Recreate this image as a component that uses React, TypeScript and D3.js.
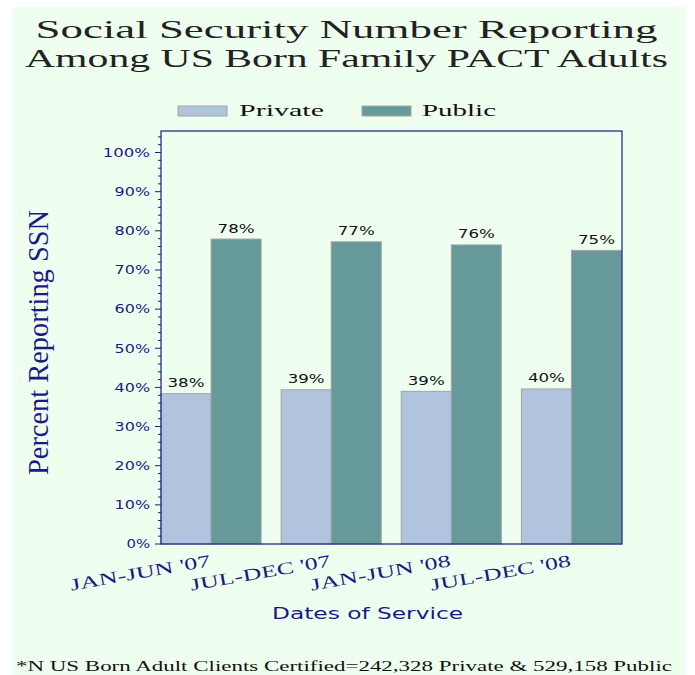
import * as d3 from 'd3';

// chart data
const periods = ["JAN-JUN '07", "JUL-DEC '07", "JAN-JUN '08", "JUL-DEC '08"];
const seriesNames = ['Private', 'Public'];
const privateValues = [38.4, 39.4, 39.0, 39.6];
const publicValues = [77.9, 77.2, 76.4, 75.0];
const yTicks = [0, 10, 20, 30, 40, 50, 60, 70, 80, 90, 100];
const titleLines = ['Social Security Number Reporting', 'Among US Born Family PACT Adults'];
const footnote = '*N US Born Adult Clients Certified=242,328 Private & 529,158 Public';

const colors: Record<string, string> = { Private: '#b0c4de', Public: '#669999' };
const navy = '#1a1a86';
const serif = '"Liberation Serif"';

const width = 695;
const height = 675;
const marginLeft = 161;
const marginRight = 73;
const marginTop = 131;
const marginBottom = 131;

const App = () => {
    const x0 = d3.scaleBand<string>()
        .domain(periods)
        .range([marginLeft, width - marginRight - 0.5])
        .paddingInner(20 / 120)
        .paddingOuter(0);
    const x1 = d3.scaleBand<string>()
        .domain(seriesNames)
        .range([0, x0.bandwidth()]);
    const y = d3.scaleLinear()
        .domain([0, 105.5])
        .range([height - marginBottom, marginTop]);

    const rows = periods.map((p, i) => ({ period: p, Private: privateValues[i], Public: publicValues[i] }));
    const minorTicks = d3.range(0, 105.5, 2).filter(t => t % 10 !== 0);

    // bars + value labels
    const bars = rows.map(r => (
        <g key={r.period} transform={`translate(${x0(r.period)},0)`}>
            {seriesNames.map(s => {
                const v = (r as any)[s] as number;
                return (
                    <g key={s}>
                        <rect
                            x={x1(s)}
                            y={y(v)}
                            width={x1.bandwidth()}
                            height={y(0) - y(v)}
                            fill={colors[s]}
                            stroke="#a4a4a4"
                            strokeWidth={1}
                        />
                        <text
                            x={(x1(s) || 0) + x1.bandwidth() / 2}
                            y={y(v) - 6.5}
                            textAnchor="middle"
                            textLength={37}
                            lengthAdjust="spacingAndGlyphs"
                            style={{ font: '13px "DejaVu Sans"', fill: '#111' }}
                        >
                            {Math.round(v)}%
                        </text>
                    </g>
                );
            })}
        </g>
    ));

    // y axis ticks
    const yAxisTicks = yTicks.map(t => (
        <g key={t} transform={`translate(${marginLeft}, ${y(t)})`}>
            <line x1={-6} x2={0} stroke={navy} />
            <text
                x={-11}
                dy="0.36em"
                textAnchor="end"
                textLength={`${t}%`.length * 11.8}
                lengthAdjust="spacingAndGlyphs"
                style={{ font: '12px "DejaVu Sans"', fill: navy }}
            >
                {t}%
            </text>
        </g>
    ));
    const yMinor = minorTicks.map(t => (
        <line key={t} x1={marginLeft - 3} x2={marginLeft} y1={y(t)} y2={y(t)} stroke={navy} />
    ));

    // x axis labels
    const xAxisTicks = periods.map(p => (
        <text
            key={p}
            transform={`translate(${(x0(p) || 0) + x0.bandwidth() / 2}, 566) rotate(-10)`}
            textAnchor="end"
            textLength={142}
            lengthAdjust="spacingAndGlyphs"
            style={{ font: `17px ${serif}`, fill: navy }}
        >
            {p}
        </text>
    ));

    const legendItems = [
        { name: 'Private', x: 178, tx: 239, tl: 85 },
        { name: 'Public', x: 362, tx: 422, tl: 74 },
    ];

    return (
        <svg width={width} height={height} style={{ position: 'absolute', left: 0, top: 0, background: 'white' }}>
            <rect x={13} y={7} width={672} height={668} fill="#efffef" />
            {titleLines.map((t, i) => (
                <text
                    key={t}
                    x={346.5}
                    y={37.5 + i * 29.5}
                    textAnchor="middle"
                    textLength={i === 0 ? 622 : 643}
                    lengthAdjust="spacingAndGlyphs"
                    style={{ font: `25px ${serif}`, fill: '#222' }}
                >
                    {t}
                </text>
            ))}
            {legendItems.map(l => (
                <g key={l.name}>
                    <rect x={l.x} y={106} width={49} height={10} fill={colors[l.name]} stroke="#a4a4a4" />
                    <text
                        x={l.tx}
                        y={116}
                        textLength={l.tl}
                        lengthAdjust="spacingAndGlyphs"
                        style={{ font: `17px ${serif}`, fill: '#111' }}
                    >
                        {l.name}
                    </text>
                </g>
            ))}
            {bars}
            <rect
                x={marginLeft}
                y={marginTop}
                width={width - marginRight - marginLeft}
                height={height - marginBottom - marginTop}
                fill="none"
                stroke={navy}
                strokeWidth={1.2}
            />
            {yMinor}
            {yAxisTicks}
            {xAxisTicks}
            <text
                transform={`translate(48, 342.5) rotate(-90)`}
                textAnchor="middle"
                textLength={265}
                lengthAdjust="spacingAndGlyphs"
                style={{ font: `30px ${serif}`, fill: navy }}
            >
                Percent Reporting SSN
            </text>
            <text
                x={367.5}
                y={619}
                textAnchor="middle"
                textLength={191}
                lengthAdjust="spacingAndGlyphs"
                style={{ font: '16px "DejaVu Sans"', fill: navy }}
            >
                Dates of Service
            </text>
            <text
                x={16}
                y={671}
                textLength={656}
                lengthAdjust="spacingAndGlyphs"
                style={{ font: `15px ${serif}`, fill: '#111' }}
            >
                {footnote}
            </text>
        </svg>
    );
};

export default App;
